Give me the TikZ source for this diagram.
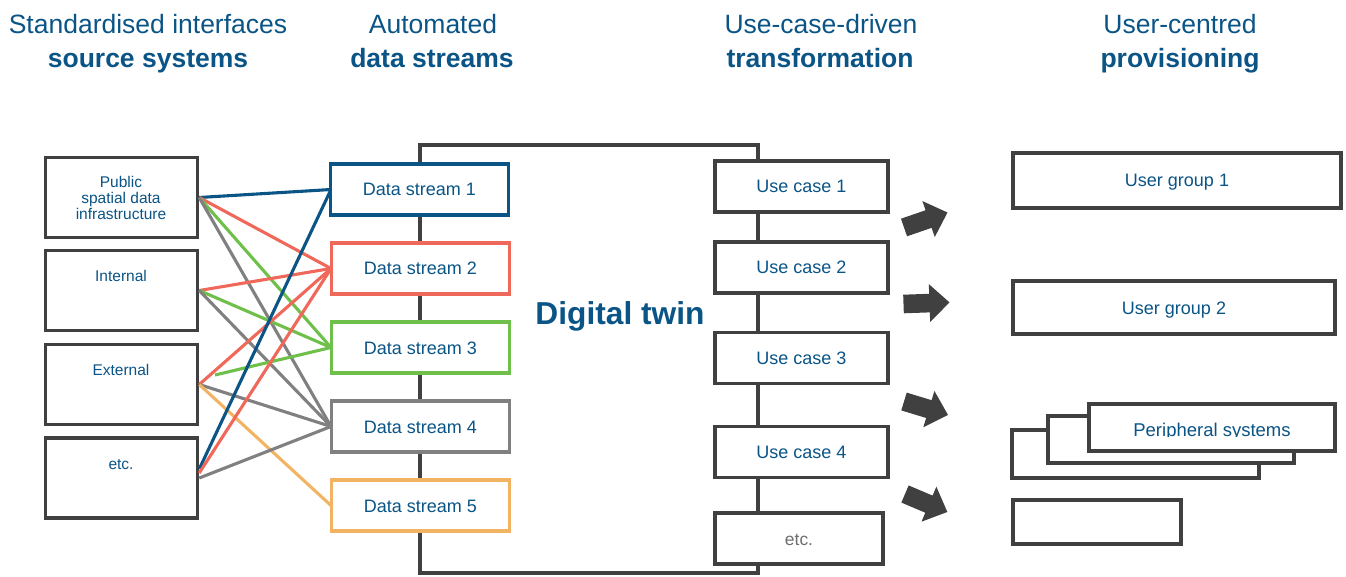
\documentclass[tikz,border=0pt]{standalone}
\usepackage{fontspec}
\setmainfont{Liberation Sans}
\usetikzlibrary{calc}
\definecolor{boxgray}{RGB}{64,64,64}
\definecolor{dblue}{RGB}{10,84,134}
\definecolor{lred}{RGB}{240,104,90}
\definecolor{lgreen}{RGB}{110,192,74}
\definecolor{lgray}{RGB}{128,128,128}
\definecolor{lorange}{RGB}{242,180,98}
\definecolor{etcgray}{RGB}{110,110,110}
\begin{document}
\begin{tikzpicture}[x=1pt,y=-1pt,
  box/.style={draw=boxgray,line width=3.5pt,fill=white,rectangle,inner sep=0pt,
    text=dblue,font=\fontsize{18}{20}\selectfont,text height=13pt,text depth=0pt},
  srcbox/.style={box,minimum width=152pt,minimum height=80pt},
  dsbox/.style={box,minimum width=178pt,minimum height=51pt},
  ucbox/.style={box,minimum width=173pt,minimum height=51pt},
  srctext/.style={text=dblue,font=\fontsize{15.5}{16}\selectfont,align=center,inner sep=0pt},
  title/.style={text=dblue,font=\fontsize{26.5}{30}\selectfont,anchor=base,inner sep=0pt},
  titleb/.style={title,font=\bfseries\fontsize{26.5}{30}\selectfont},
  conn/.style={line width=3.1pt},
  barrow/.pic={\fill[boxgray] (0,-9.3) -- (26,-9.3) -- (26,-19) -- (46,0) -- (26,19) -- (26,9.3) -- (0,9.3) -- cycle;}
]
\useasboundingbox (0,0) rectangle (1346,577);

% titles
\node[title] (t1a) at (148,34) {Standardised interfaces};
\node[titleb] (t1b) at (148,67.5) {source systems};
\node[title] (t2a) at (433,34) {Automated};
\node[titleb] (t2b) at (432,67.5) {data streams};
\node[title] (t3a) at (821,34) {Use-case-driven};
\node[titleb] (t3b) at (820,67.5) {transformation};
\node[title] (t4a) at (1180,34) {User-centred};
\node[titleb] (t4b) at (1180,67.5) {provisioning};

% source boxes
\node[srcbox] (s1) at (121.5,197.5) {};
\node[srcbox] (s2) at (121.5,290.5) {};
\node[srcbox] (s3) at (121.5,384.5) {};
\node[srcbox] (s4) at (121.5,478) {};
\node[srctext] (s1t) at (121,198) {Public\\spatial data\\infrastructure};
\node[srctext,anchor=base] (s2t) at (121,281) {Internal};
\node[srctext,anchor=base] (s3t) at (121,375) {External};
\node[srctext,anchor=base] (s4t) at (121,469) {etc.};

% digital twin frame
\draw[boxgray,line width=3.5pt] (420,145) rectangle (758,573);
\node[text=dblue,font=\bfseries\fontsize{31.7}{36}\selectfont,anchor=base,inner sep=0pt] (dt) at (620,324) {Digital twin};

% connector coordinates
\coordinate (s4a) at ($(s4.east)+(0,-9)$);
\coordinate (s4b) at ($(s4.east)+(0,-5)$);
\coordinate (g3) at (215,375);
\coordinate (ds1w) at (331,189.5);
\coordinate (ds2w) at (331,268.5);
\coordinate (ds3w) at (331,347.5);
\coordinate (ds4w) at (331,426.5);
\coordinate (ds5w) at (331,505.5);

% connectors
\draw[conn,dblue] (s1.east) -- (ds1w);
\draw[conn,lred] (s1.east) -- (ds2w);
\draw[conn,lgreen] (s1.east) -- (ds3w);
\draw[conn,lgray] (s1.east) -- (ds4w);
\draw[conn,lred] (s2.east) -- (ds2w);
\draw[conn,lgreen] (s2.east) -- (ds3w);
\draw[conn,lgray] (s2.east) -- (ds4w);
\draw[conn,lred] (s3.east) -- (ds2w);
\draw[conn,lgreen] (g3) -- (ds3w);
\draw[conn,lgray] (s3.east) -- (ds4w);
\draw[conn,lorange] (s3.east) -- (ds5w);
\draw[conn,dblue] (s4a) -- (ds1w);
\draw[conn,lred] (s4b) -- (ds2w);
\draw[conn,lgray] (s4.east) -- (ds4w);

% data streams
\node[dsbox,draw=dblue] (ds1) at (419.5,189.5) {Data stream 1};
\node[dsbox,draw=lred] (ds2) at (420.5,268.5) {Data stream 2};
\node[dsbox,draw=lgreen] (ds3) at (420.5,347.5) {Data stream 3};
\node[dsbox,draw=lgray] (ds4) at (420.5,426.5) {Data stream 4};
\node[dsbox,draw=lorange] (ds5) at (420.5,505.5) {Data stream 5};

% use cases
\node[ucbox] (u1) at (801.5,186.5) {Use case 1};
\node[ucbox] (u2) at (801.5,267.5) {Use case 2};
\node[ucbox] (u3) at (801.5,358) {Use case 3};
\node[ucbox] (u4) at (801.5,452) {Use case 4};
\node[ucbox,minimum width=168pt,text=etcgray,font=\fontsize{17.4}{20}\selectfont] (u5) at (799,538.5) {etc.};

% block arrows
\pic[rotate=19] at (904,227.5) {barrow};
\pic[rotate=2] at (903.5,304) {barrow};
\pic[rotate=-17] at (904,401.5) {barrow};
\pic[rotate=-23] at (905,494) {barrow};

% user groups
\node[box,minimum width=328pt,minimum height=55pt] (g1) at (1177,180.5) {User group 1};
\node[box,minimum width=322pt,minimum height=53pt] (g2) at (1174,307.5) {User group 2};
\node[box,minimum width=247pt,minimum height=48pt] (p1) at (1135.5,454) {};
\node[box,minimum width=246pt,minimum height=47pt] (p2) at (1171,439.5) {};
\node[box,minimum width=246pt,minimum height=47pt] (p3) at (1212,427.5) {};
\begin{scope}
\clip (1089,404) rectangle (1335,436.5);
\node[text=dblue,font=\fontsize{18.5}{20}\selectfont,text height=13pt,text depth=0pt,inner sep=0pt] (p3t) at (1212,429.5) {Peripheral systems};
\end{scope}
\node[box,minimum width=168pt,minimum height=44pt] (g4) at (1097,522) {};
\end{tikzpicture}
\end{document}
